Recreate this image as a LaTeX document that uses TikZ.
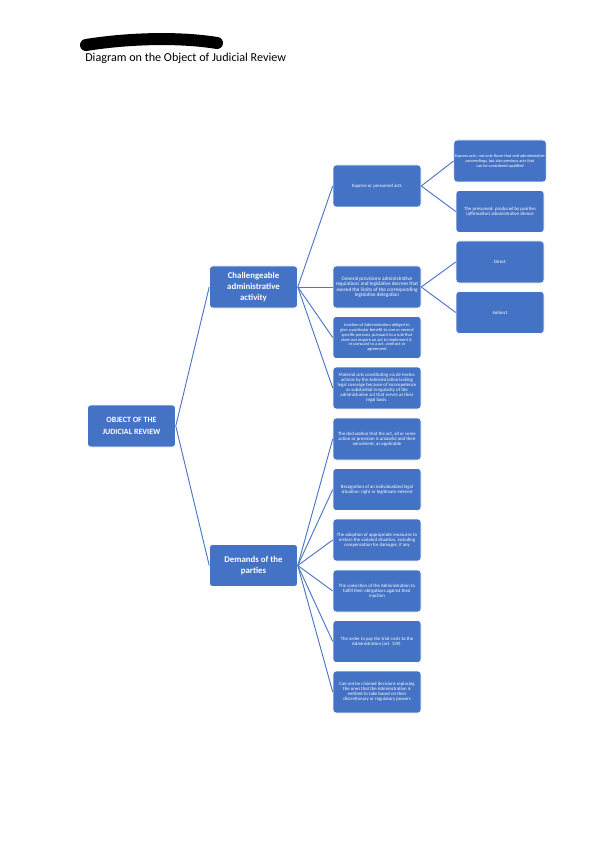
\documentclass[tikz,border=0pt]{standalone}
\usepackage{fontspec}
\setmainfont{Carlito}
\definecolor{boxblue}{HTML}{4472C4}
\definecolor{lineblue}{HTML}{4A76C6}
\begin{document}
\begin{tikzpicture}[x=0.75pt,y=-0.75pt,
  box/.style={draw=white,line width=0.4pt,fill=boxblue,rounded corners=2.5pt,
    minimum width=66pt,minimum height=31.5pt,text=white,align=center,inner sep=1pt},
  topbox/.style={box,font=\fontsize{6}{8.6}\selectfont\bfseries},
  midbox/.style={box,font=\fontsize{6.6}{8.2}\selectfont\bfseries},
  smallbox/.style={box,font=\fontsize{3.6}{3.8}\selectfont},
  tinybox/.style={box,font=\fontsize{3.3}{3.6}\selectfont},
  link/.style={draw=lineblue,line width=0.7pt}]
\useasboundingbox (0,0) rectangle (599,848);
\fill[white] (0,0) rectangle (599,848);
% redaction mark
\draw[black,line width=9pt,line cap=round] (86,45) .. controls (130,38) and (180,37) .. (217,43);
\node[anchor=west,inner sep=0pt,font=\fontsize{9.1}{10}\selectfont] (title) at (85,58) {Diagram on the Object of Judicial Review};
% level 1
\node[topbox] (root) at (131.5,426) {OBJECT OF THE\\JUDICIAL REVIEW};
% level 2
\node[midbox] (chal) at (253.5,287) {Challengeable\\administrative\\activity};
\node[midbox] (dem) at (253.5,565.5) {Demands of the\\parties};
% level 3
\node[smallbox] (c1) at (377,186) {Express or presumed acts};
\node[smallbox,font=\fontsize{3.9}{4}\selectfont] (c2) at (377,287) {General provisions administrative\\regulations and legislative decrees that\\exceed the limits of the corresponding\\legislative delegation};
\node[tinybox] (c3) at (377,337.5) {Inaction of Administration obliged to\\give a particular benefit to one or several\\specific persons, pursuant to a rule that\\does not require an act to implement it,\\or pursuant to a act, contract or\\agreement};
\node[smallbox] (c4) at (377,388) {Material acts constituting vía de hecho:\\actions by the Administration lacking\\legal coverage because of incompetence\\or substantial irregularity of the\\administrative act that serves as their\\legal basis.};
\node[smallbox] (c5) at (377,439) {The declaration that the act, all or some\\action or provision is unlawful and their\\annulment, as applicable};
\node[smallbox] (c6) at (377,489.5) {Recognition of an individualized legal\\situation: right or legitimate interest};
\node[smallbox] (c7) at (377,540) {The adoption of appropriate measures to\\restore the violated situation, including\\compensation for damages, if any};
\node[smallbox] (c8) at (377,591) {The conviction of the Administration to\\fulfill their obligations against their\\inaction};
\node[smallbox] (c9) at (377,641.5) {The order to pay the trial costs to the\\Administration (art. 139).};
\node[smallbox] (c10) at (377,692) {Can not be claimed decisions replacing\\the ones that the Administration is\\entitled to take based on their\\discretionary or regulatory powers};
% level 4
\node[box,font=\fontsize{3.2}{3.8}\selectfont] (d1) at (500,161) {Express acts: not only those that end administrative\\proceedings, but also previous acts that\\can be considered qualified};
\node[smallbox] (d2) at (500,211.5) {The presumed: produced by positive\\(affirmative) administrative silence};
\node[smallbox] (d3) at (500,262) {Direct};
\node[smallbox] (d4) at (500,312.5) {Indirect};
% connectors
\path[link] (root.east) -- (chal.west);
\path[link] (root.east) -- (dem.west);
\foreach \n in {c1,c2,c3,c4} \path[link] (chal.east) -- (\n.west);
\foreach \n in {c5,c6,c7,c8,c9,c10} \path[link] (dem.east) -- (\n.west);
\path[link] (c1.east) -- (d1.west);
\path[link] (c1.east) -- (d2.west);
\path[link] (c2.east) -- (d3.west);
\path[link] (c2.east) -- (d4.west);
\end{tikzpicture}
\end{document}
